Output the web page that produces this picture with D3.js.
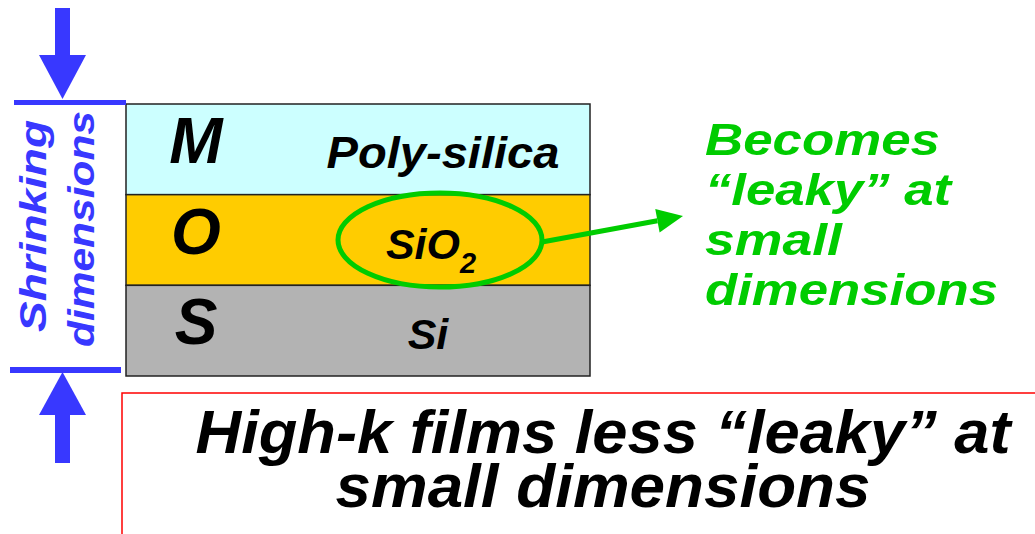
<!DOCTYPE html>
<html>
<head>
<meta charset="utf-8">
<script src="https://cdn.jsdelivr.net/npm/d3@7"></script>
<style>
  html, body { margin: 0; padding: 0; background: #fff; }
  text { font-family: "Liberation Sans", Arial, sans-serif; font-weight: bold; font-style: italic; }
</style>
</head>
<body>
<div id="chart"></div>
<script>
// layer stack data
const layers = ["M", "O", "S"];
const materials = ["Poly-silica", "SiO", "Si"];
const materialSubs = ["", "2", ""];
const layerColors = ["#ccffff", "#ffcc00", "#b3b3b3"];

const sideLabel = ["Shrinking", "dimensions"];
const noteLines = ["Becomes", "\u201cleaky\u201d at", "small", "dimensions"];
const footerLines = ["High-k films less \u201cleaky\u201d at", "small dimensions"];

const svgWidth = 1035;
const svgHeight = 534;

const blue = "#3838ff";
const green = "#00cc00";

const svg = d3.select("#chart")
  .append("svg")
  .attr("width", svgWidth)
  .attr("height", svgHeight);

// scales for the stack
const y = d3.scaleBand()
  .domain(layers)
  .range([104, 376])
  .paddingInner(0);

const x = d3.scaleLinear()
  .domain([0, 1])
  .range([126, 590]);

// layers
svg.selectAll("rect.layer")
  .data(layers)
  .enter()
  .append("rect")
  .classed("layer", true)
  .attr("x", x(0))
  .attr("y", d => y(d))
  .attr("width", x(1) - x(0))
  .attr("height", y.bandwidth())
  .attr("fill", (d, i) => layerColors[i])
  .attr("stroke", "#222")
  .attr("stroke-width", 1.5);

// layer letters
svg.selectAll("text.letter")
  .data(layers)
  .enter()
  .append("text")
  .classed("letter", true)
  .attr("x", 196)
  .attr("y", d => y(d) + 59)
  .attr("text-anchor", "middle")
  .attr("font-size", "64px")
  .text(d => d);

// material names
const matText = svg.selectAll("text.material")
  .data(materials)
  .enter()
  .append("text")
  .classed("material", true)
  .attr("x", (d, i) => [443, 431, 428][i])
  .attr("y", (d, i) => y(layers[i]) + 64)
  .attr("text-anchor", "middle")
  .attr("font-size", (d, i) => i === 0 ? "45px" : "43px");

matText.append("tspan").text(d => d);
matText.append("tspan")
  .attr("dy", 14)
  .attr("font-size", "29px")
  .text((d, i) => materialSubs[i]);

svg.select("text.material").attr("textLength", 233).attr("lengthAdjust", "spacingAndGlyphs");

// green ellipse around SiO2
const ecx = 440, ecy = y("O") + y.bandwidth() / 2;
svg.append("ellipse")
  .attr("cx", ecx)
  .attr("cy", ecy)
  .attr("rx", 102)
  .attr("ry", 47)
  .attr("fill", "none")
  .attr("stroke", green)
  .attr("stroke-width", 5);

// green arrow to note
const a0 = [ecx + 102, ecy + 2], a1 = [683, 216];
const dx = a1[0] - a0[0], dy = a1[1] - a0[1];
const len = Math.hypot(dx, dy);
const ux = dx / len, uy = dy / len;
const headL = 26, headW = 12;
const base = [a1[0] - ux * headL, a1[1] - uy * headL];
svg.append("line")
  .attr("x1", a0[0]).attr("y1", a0[1])
  .attr("x2", base[0]).attr("y2", base[1])
  .attr("stroke", green)
  .attr("stroke-width", 5);
svg.append("polygon")
  .attr("points", [a1, [base[0] - uy * headW, base[1] + ux * headW], [base[0] + uy * headW, base[1] - ux * headW]].map(p => p.join(",")).join(" "))
  .attr("fill", green);

// note text
const noteWidths = [235, 246, 137, 293];
svg.selectAll("text.note")
  .data(noteLines)
  .enter()
  .append("text")
  .classed("note", true)
  .attr("x", 705)
  .attr("y", (d, i) => 155 + i * 50)
  .attr("font-size", "45px")
  .attr("fill", green)
  .attr("textLength", (d, i) => noteWidths[i])
  .attr("lengthAdjust", "spacingAndGlyphs")
  .text(d => d);

// shrinking dimension markers
svg.append("rect").attr("x", 14).attr("y", y.range()[0] - 4).attr("width", 112).attr("height", 5).attr("fill", blue);
svg.append("rect").attr("x", 10).attr("y", y.range()[1] - 9).attr("width", 111).attr("height", 6).attr("fill", blue);

svg.append("rect").attr("x", 55).attr("y", 8).attr("width", 15).attr("height", 50).attr("fill", blue);
svg.append("polygon").attr("points", "39,55 86,55 62.5,99").attr("fill", blue);
svg.append("polygon").attr("points", "39,415 86,415 62.5,372").attr("fill", blue);
svg.append("rect").attr("x", 55).attr("y", 413).attr("width", 15).attr("height", 50).attr("fill", blue);

const sideWidths = [212, 236];
svg.selectAll("text.side")
  .data(sideLabel)
  .enter()
  .append("text")
  .classed("side", true)
  .attr("transform", (d, i) => `translate(${[46, 94][i]}, ${[226, 229][i]}) rotate(-90)`)
  .attr("text-anchor", "middle")
  .attr("font-size", "36px")
  .attr("fill", blue)
  .attr("textLength", (d, i) => sideWidths[i])
  .attr("lengthAdjust", "spacingAndGlyphs")
  .text(d => d);

// footer box
svg.append("path")
  .attr("d", "M122,534 V393 H1035")
  .attr("fill", "none")
  .attr("stroke", "#ff0000")
  .attr("stroke-width", 1.5);

const footerWidths = [815, 535];
svg.selectAll("text.footer")
  .data(footerLines)
  .enter()
  .append("text")
  .classed("footer", true)
  .attr("x", 603)
  .attr("y", (d, i) => 453 + i * 54)
  .attr("text-anchor", "middle")
  .attr("font-size", "62px")
  .attr("textLength", (d, i) => footerWidths[i])
  .attr("lengthAdjust", "spacingAndGlyphs")
  .text(d => d);
</script>
</body>
</html>
